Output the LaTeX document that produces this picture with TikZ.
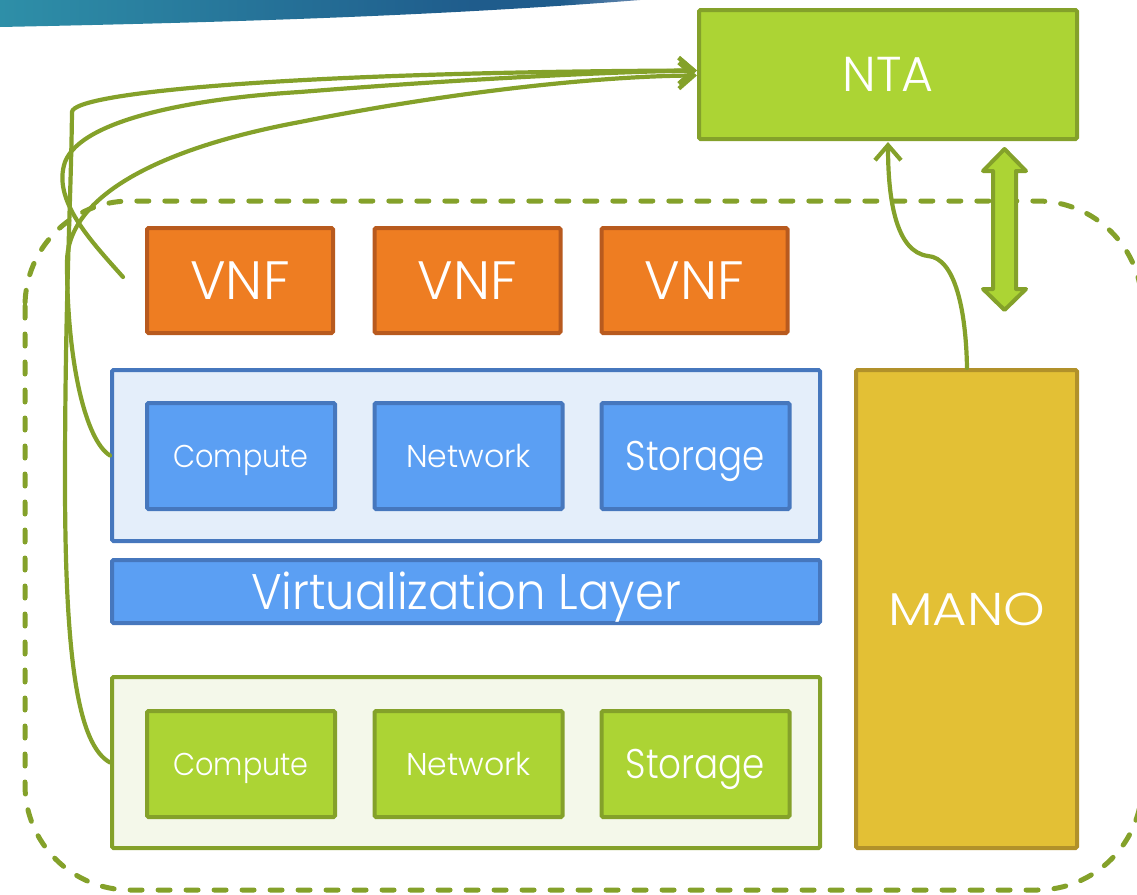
\documentclass[tikz,border=0pt]{standalone}
\usepackage{fontspec}
\setmainfont{Poppins Light}
\usetikzlibrary{arrows.meta}
\definecolor{oliveL}{HTML}{84A12A}
\definecolor{ntaG}{HTML}{ACD434}
\definecolor{vnfO}{HTML}{EE7D22}
\definecolor{vnfD}{HTML}{B85A1E}
\definecolor{bgBlue}{HTML}{E4EEFA}
\definecolor{blueD}{HTML}{4677BD}
\definecolor{blueF}{HTML}{5B9FF3}
\definecolor{bgGreen}{HTML}{F4F8EA}
\definecolor{manoY}{HTML}{E3C035}
\definecolor{manoD}{HTML}{B1912A}
\definecolor{swA}{HTML}{2E8FA8}
\definecolor{swB}{HTML}{1F5C8C}
\definecolor{swC}{HTML}{6688B0}
\pgfdeclarehorizontalshading{swoosh}{100bp}{color(0bp)=(swA); color(25bp)=(swA); color(62bp)=(swB); color(69bp)=(swB); color(75bp)=(swC); color(100bp)=(swC)}
\newcommand{\fsz}[1]{\fontsize{#1}{#1}\selectfont}
\newcommand{\hs}[2]{\scalebox{#1}[1]{#2}}
\begin{document}
\begin{tikzpicture}[x=1pt,y=-1pt,
  boxbase/.style={draw, line width=4pt, rounded corners=1.5pt, inner sep=0pt, text=white},
  ntabox/.style={boxbase, fill=ntaG, draw=oliveL},
  vnfbox/.style={boxbase, fill=vnfO, draw=vnfD, minimum width=186, minimum height=105, font=\fsz{54}, text height=37.6pt, text depth=0pt},
  outerblue/.style={boxbase, fill=bgBlue, draw=blueD, minimum width=708, minimum height=171},
  bluebox/.style={boxbase, fill=blueF, draw=blueD},
  outergreen/.style={boxbase, fill=bgGreen, draw=oliveL, minimum width=708, minimum height=171},
  greenbox/.style={boxbase, fill=ntaG, draw=oliveL},
  resbox/.style={minimum width=188, minimum height=106},
  smalltxt/.style={font=\fsz{31.5}, text height=22pt, text depth=0pt},
  bigtxt/.style={font=\fsz{41.5}, text height=29pt, text depth=0pt},
  manobox/.style={boxbase, fill=manoY, draw=manoD},
  conn/.style={draw=oliveL, line width=4.2pt, line cap=round},
  tipend/.style={-{Straight Barb[length=15pt,width=26pt]}},
  dashframe/.style={draw=oliveL, line width=5pt, dash pattern=on 12pt off 16pt, line cap=round}
]
\useasboundingbox (0,0) rectangle (1137,894);
\clip (0,0) rectangle (1137,894);
% top swoosh
\shade[shading=swoosh] (0,0) -- (640,0) .. controls (450,15) and (250,22) .. (0,27) -- cycle;
% dashed frame
\draw[dashframe, rounded corners=105pt] (25,201) rectangle (1142,890);
% NTA
\node[ntabox, minimum width=378, minimum height=129, font=\fsz{49}, text height=34.2pt, text depth=0pt] (nta) at (888,74.5) {NTA};
% VNFs
\node[vnfbox] (vnf1) at (240,280.5) {VNF};
\node[vnfbox] (vnf2) at (467.5,280.5) {VNF};
\node[vnfbox] (vnf3) at (694.5,280.5) {VNF};
% virtual resources
\node[outerblue] (vres) at (466,455.5) {};
\node[bluebox, resbox, smalltxt] (vcomp) at (241,456) {\hs{0.91}{Compute}};
\node[bluebox, resbox, smalltxt] (vnet) at (468.5,456) {Network};
\node[bluebox, resbox, bigtxt] (vstor) at (695.5,456) {\hs{0.86}{Storage}};
% virtualization layer
\node[bluebox, minimum width=708, minimum height=63, font=\fsz{50}, text height=35pt, text depth=0pt] (virt) at (466,591.5) {\hs{0.93}{Virtualization Layer}};
% physical resources
\node[outergreen] (pres) at (466,762.5) {};
\node[greenbox, resbox, smalltxt] (pcomp) at (241,764) {\hs{0.91}{Compute}};
\node[greenbox, resbox, smalltxt] (pnet) at (468.5,764) {Network};
\node[greenbox, resbox, bigtxt] (pstor) at (695.5,764) {\hs{0.86}{Storage}};
% MANO
\node[manobox, minimum width=221, minimum height=478, font=\fsz{46}, text height=32pt, text depth=0pt] (mano) at (966.5,609) {\hs{1.15}{MANO}};
% double arrow between NTA and frame
\draw[draw=oliveL, fill=ntaG, line width=4pt, line join=round]
  (1004.5,149) -- (1026,171) -- (1016,171) -- (1016,289) -- (1026,289) -- (1004.5,310)
  -- (983,289) -- (993,289) -- (993,171) -- (983,171) -- cycle;
% connectors
\coordinate (vnfsrc) at (123,277);
\draw[conn, tipend] (pres.west) .. controls (78,745) and (65,660) .. (65,480)
  .. controls (65,300) and (71,200) .. (72,112)
  .. controls (73,92) and (300,72) .. ([yshift=4pt]nta.west);
\draw[conn, tipend] (vnfsrc) .. controls (90,240) and (52,200) .. (65,162)
  .. controls (82,118) and (200,98) .. (300,92)
  .. controls (450,80) and (600,72) .. ([yshift=4pt]nta.west);
\draw[conn, tipend] (vres.west) .. controls (85,440) and (67,360) .. (67,262)
  .. controls (67,200) and (150,150) .. (300,122)
  .. controls (450,92) and (600,76) .. ([yshift=-1pt]nta.west);
\draw[conn, tipend] ([xshift=0.5pt]mano.north) .. controls (966,310) and (955,258) .. (928,256)
  .. controls (896,252) and (888,200) .. ([yshift=-1pt]nta.south);
\end{tikzpicture}
\end{document}
